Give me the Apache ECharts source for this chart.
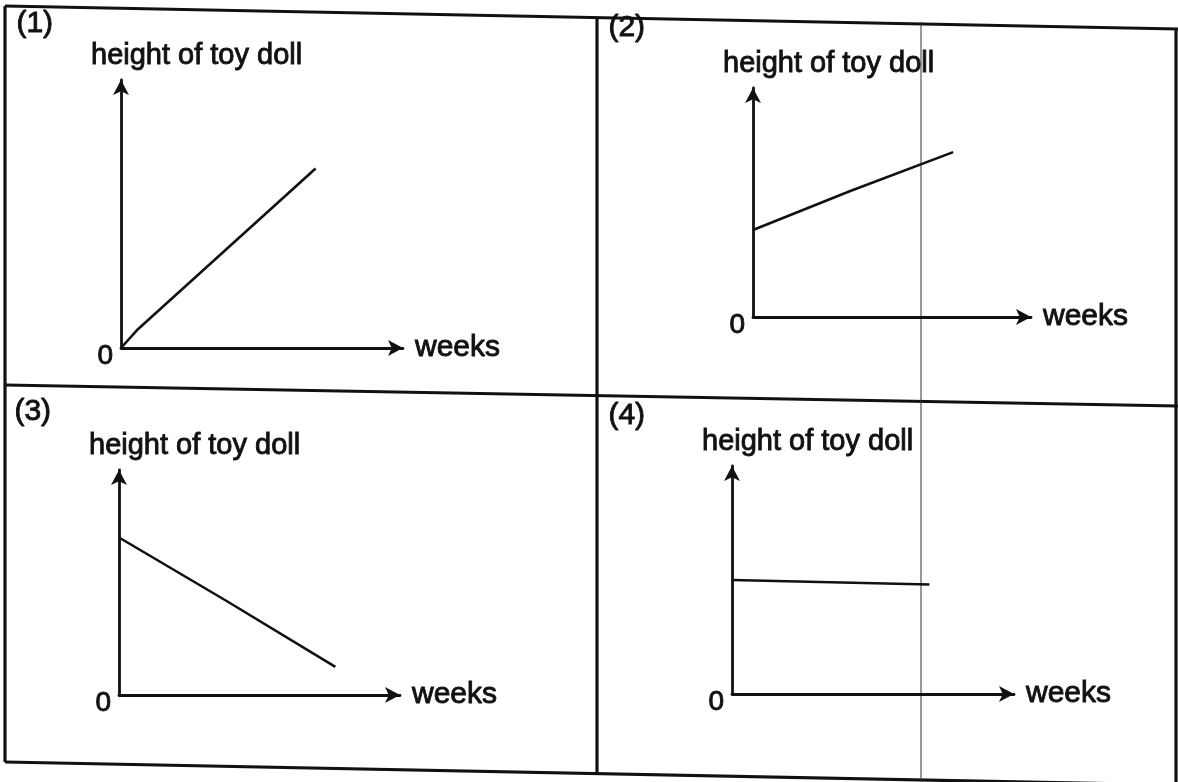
<!DOCTYPE html>
<html>
<head>
<meta charset="utf-8">
<script src="https://cdn.jsdelivr.net/npm/echarts@6/dist/echarts.min.js"></script>
<style>
  html, body { margin: 0; padding: 0; background: #fff; }
  #chart { width: 1178px; height: 782px; }
</style>
</head>
<body>
<div id="chart"></div>
<script>
// values (axis units: 0..10 on both axes)
const panelLabels = ['(1)', '(2)', '(3)', '(4)'];
const yAxisTitle = 'height of toy doll';
const xAxisTitle = 'weeks';

const weeks1 = [0, 0.6, 6.9];
const height1 = [0, 0.7, 6.7];
const weeks2 = [0, 3.5, 7.2];
const height2 = [3.8, 5.5, 7.2];
const weeks3 = [0, 3.8, 7.7];
const height3 = [7.0, 4.2, 1.25];
const weeks4 = [0, 7.0];
const height4 = [5.0, 4.8];

// panel layout in px: origin and arrow tips, panel number position
const panels = [
  { ox: 121, oy: 348, xTip: 403, yTip: 80, lx: 16, ly: 8 },
  { ox: 753, oy: 317, xTip: 1031, yTip: 88, lx: 608, ly: 12 },
  { ox: 119, oy: 695, xTip: 400, yTip: 470, lx: 14, ly: 396 },
  { ox: 732, oy: 694, xTip: 1014, yTip: 466, lx: 608, ly: 400 },
];
const seriesData = [
  weeks1.map((w, i) => [w, height1[i]]),
  weeks2.map((w, i) => [w, height2[i]]),
  weeks3.map((w, i) => [w, height3[i]]),
  weeks4.map((w, i) => [w, height4[i]]),
];

const ink = '#111';
const font = 'Liberation Sans, Arial, sans-serif';
const textInk = { color: ink, fontFamily: font, textBorderColor: ink, textBorderWidth: 0.9 };

const chart = echarts.init(document.getElementById('chart'));

const grid = panels.map(p => ({
  left: p.ox, top: p.yTip, width: p.xTip - p.ox, height: p.oy - p.yTip,
}));

const xAxis = panels.map((p, i) => ({
  type: 'value', gridIndex: i, min: 0, max: 10,
  name: xAxisTitle, nameLocation: 'end', nameGap: 12,
  nameTextStyle: Object.assign({ fontSize: 30, verticalAlign: 'middle', padding: [10, 0, 0, 0] }, textInk),
  axisLine: { show: true, symbol: ['none', 'arrow'], symbolSize: [12, 15], lineStyle: { color: ink, width: 2.8 } },
  axisTick: { show: false }, axisLabel: { show: false }, splitLine: { show: false },
}));

const yAxis = panels.map((p, i) => ({
  type: 'value', gridIndex: i, min: 0, max: 10, interval: 10,
  name: yAxisTitle, nameLocation: 'end', nameGap: 10,
  nameTextStyle: Object.assign({ fontSize: 29, align: 'left', padding: [0, 0, 0, -30] }, textInk),
  axisLine: { show: true, symbol: ['none', 'arrow'], symbolSize: [12, 15], lineStyle: { color: ink, width: 2.8 } },
  axisTick: { show: false }, splitLine: { show: false },
  axisLabel: Object.assign({
    show: true, fontSize: 28, margin: 8,
    verticalAlign: 'top', lineHeight: 16,
    formatter: v => (v === 0 ? '0' : ''),
  }, textInk),
}));

const series = seriesData.map((d, i) => ({
  type: 'line', xAxisIndex: i, yAxisIndex: i, data: d,
  showSymbol: false, silent: true,
  lineStyle: { color: ink, width: 2.6 },
}));

// scanned worksheet frame (slightly skewed)
const frame = [
  [5, 6, 1178, 29],
  [5, 385, 1178, 406],
  [5, 762, 1178, 785],
  [5, 6, 5, 762],
  [597, 18, 597, 773],
  [1176, 29, 1176, 782],
];
const graphic = frame.map(f => ({
  type: 'line', shape: { x1: f[0], y1: f[1], x2: f[2], y2: f[3] },
  style: { stroke: ink, lineWidth: 3.2 }, silent: true,
})).concat([
  { type: 'line', shape: { x1: 921, y1: 22, x2: 921, y2: 782 }, style: { stroke: '#333', lineWidth: 1 }, silent: true },
]).concat(panels.map((p, i) => ({
  type: 'text', left: p.lx, top: p.ly,
  style: {
    text: panelLabels[i], fill: ink, stroke: ink, lineWidth: 0.9,
    fontSize: 30, fontFamily: font,
  },
})));

chart.setOption({
  animation: false,
  backgroundColor: '#fff',
  grid, xAxis, yAxis, series, graphic,
});
</script>
</body>
</html>
